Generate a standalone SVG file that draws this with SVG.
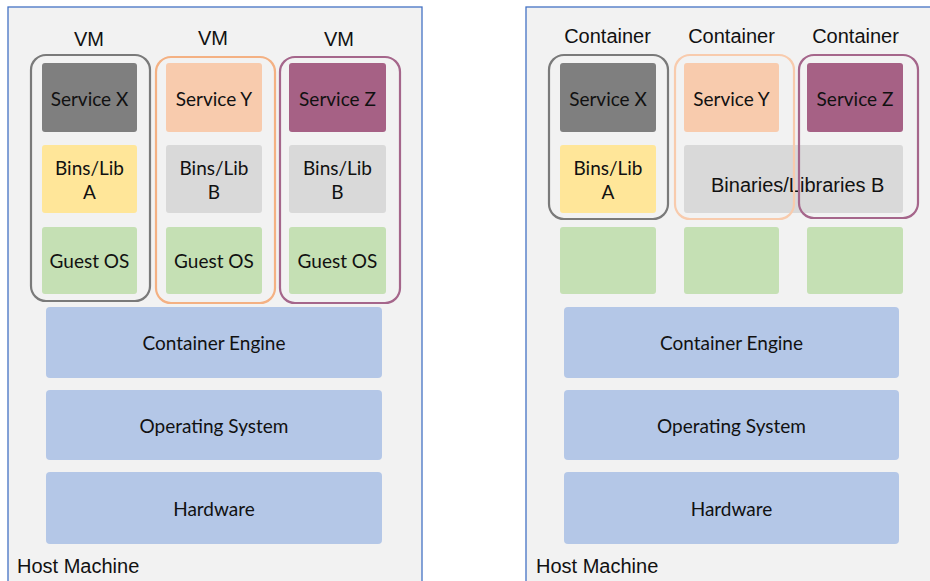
<svg xmlns="http://www.w3.org/2000/svg" width="930" height="581" viewBox="0 0 930 581">
<style>
.panel{fill:#f2f2f2;stroke:#4472c4;stroke-width:1.3}
.box{stroke:none}
.t{font-family:Lato,"Open Sans","Liberation Sans",sans-serif;font-size:19px;fill:#111;text-anchor:middle}
.h{font-family:"Liberation Sans",Arial,sans-serif;font-size:20px;fill:#111;text-anchor:middle}
.hl{font-family:"Liberation Sans",Arial,sans-serif;font-size:20px;fill:#111}
.sx{fill:#7f7f7f}.sy{fill:#f8cbad}.sz{fill:#a66185}
.ba{fill:#ffe699}.bb{fill:#d9d9d9}.os{fill:#c5e0b4}.bar{fill:#b4c7e7}
.og{fill:none;stroke:#7a7a7a;stroke-width:2.2}
.oo{fill:none;stroke:#f4b183;stroke-width:2.2}
.oo2{fill:none;stroke:#f8cbad;stroke-width:2.2}
.op{fill:none;stroke:#a5668b;stroke-width:2.2}
</style>
<g id="left-host">
<rect class="panel" x="8" y="7" width="414" height="580"/>
<text class="hl" x="17" y="573">Host Machine</text>
</g>
<g id="left-vm1">
<text class="h" x="89" y="46">VM</text>
<rect class="sx" x="42" y="63" width="95" height="69" rx="3"/>
<text class="t" x="89.5" y="105.5">Service X</text>
<rect class="ba" x="42" y="145" width="95" height="68" rx="3"/>
<text class="t" x="89.5" y="174.5">Bins/Lib</text>
<text class="t" x="89.5" y="198.5">A</text>
<rect class="os" x="42" y="227" width="95" height="67" rx="3"/>
<text class="t" x="89.5" y="267.5">Guest OS</text>
<rect class="og" x="31" y="55" width="119" height="246" rx="15"/>
</g>
<g id="left-vm2">
<text class="h" x="213" y="45">VM</text>
<rect class="sy" x="166" y="63" width="96" height="69" rx="3"/>
<text class="t" x="214" y="105.5">Service Y</text>
<rect class="bb" x="166" y="145" width="96" height="68" rx="3"/>
<text class="t" x="214" y="174.5">Bins/Lib</text>
<text class="t" x="214" y="198.5">B</text>
<rect class="os" x="166" y="227" width="96" height="67" rx="3"/>
<text class="t" x="214" y="267.5">Guest OS</text>
<rect class="oo" x="156" y="57" width="119" height="246" rx="15"/>
</g>
<g id="left-vm3">
<text class="h" x="339" y="46">VM</text>
<rect class="sz" x="289" y="63" width="97" height="69" rx="3"/>
<text class="t" x="337.5" y="105.5">Service Z</text>
<rect class="bb" x="289" y="145" width="97" height="68" rx="3"/>
<text class="t" x="337.5" y="174.5">Bins/Lib</text>
<text class="t" x="337.5" y="198.5">B</text>
<rect class="os" x="289" y="227" width="97" height="67" rx="3"/>
<text class="t" x="337.5" y="267.5">Guest OS</text>
<rect class="op" x="280" y="57" width="120" height="246" rx="15"/>
</g>
<g id="left-engine">
<rect class="bar" x="46" y="307" width="336" height="71" rx="4"/>
<text class="t" x="214" y="349.5">Container Engine</text>
</g>
<g id="left-os">
<rect class="bar" x="46" y="390" width="336" height="70" rx="4"/>
<text class="t" x="214" y="432.5">Operating System</text>
</g>
<g id="left-hw">
<rect class="bar" x="46" y="472" width="336" height="72" rx="4"/>
<text class="t" x="214" y="515.5">Hardware</text>
</g>

<g id="right-host">
<rect class="panel" x="526" y="7" width="420" height="580"/>
<text class="hl" x="536" y="573">Host Machine</text>
</g>
<g id="right-c1">
<text class="h" x="607.5" y="43">Container</text>
<rect class="sx" x="560" y="63" width="96" height="69" rx="3"/>
<text class="t" x="608" y="105.5">Service X</text>
<rect class="ba" x="560" y="145" width="96" height="68" rx="3"/>
<text class="t" x="608" y="174.5">Bins/Lib</text>
<text class="t" x="608" y="198.5">A</text>
<rect class="os" x="560" y="227" width="96" height="67" rx="3"/>
</g>
<g id="right-c2">
<text class="h" x="731.5" y="43">Container</text>
<rect class="sy" x="684" y="63" width="95" height="69" rx="3"/>
<text class="t" x="731.5" y="105.5">Service Y</text>
<rect class="os" x="684" y="227" width="95" height="67" rx="3"/>
</g>
<g id="right-c3">
<text class="h" x="855.5" y="43">Container</text>
<rect class="sz" x="807" y="63" width="96" height="69" rx="3"/>
<text class="t" x="855" y="105.5">Service Z</text>
<rect class="os" x="807" y="227" width="96" height="67" rx="3"/>
</g>
<g id="right-binb">
<rect class="bb" x="684" y="145" width="219" height="68" rx="3"/>
<text class="hl" x="711" y="192">Binaries/Libraries B</text>
</g>
<g id="right-outlines">
<rect class="og" x="549" y="55" width="119" height="164" rx="15"/>
<rect class="oo2" x="675" y="55" width="119" height="164" rx="15"/>
<rect class="op" x="799" y="55" width="119" height="163" rx="15"/>
</g>
<g id="right-engine">
<rect class="bar" x="564" y="307" width="335" height="71" rx="4"/>
<text class="t" x="731.5" y="349.5">Container Engine</text>
</g>
<g id="right-os">
<rect class="bar" x="564" y="390" width="335" height="70" rx="4"/>
<text class="t" x="731.5" y="432.5">Operating System</text>
</g>
<g id="right-hw">
<rect class="bar" x="564" y="472" width="335" height="72" rx="4"/>
<text class="t" x="731.5" y="515.5">Hardware</text>
</g>
<g id="connectors"/>
</svg>
